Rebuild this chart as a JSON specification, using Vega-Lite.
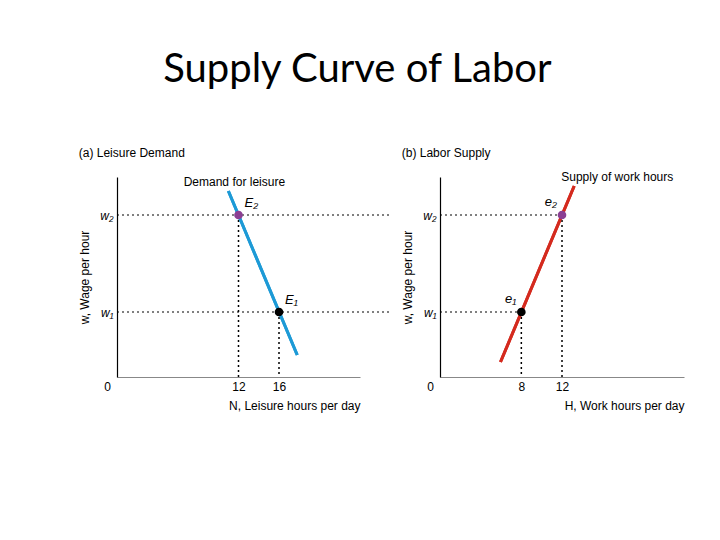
{
  "$schema": "https://vega.github.io/schema/vega-lite/v6.json",
  "background": "white",
  "padding": {"left": 78, "top": 49, "right": 20, "bottom": 20},
  "title": {"text": "Supply Curve of Labor", "font": "Lato", "fontSize": 40, "fontWeight": "normal", "color": "black", "anchor": "middle", "offset": 57, "dx": -24},
  "datasets": {
    "demand": [{"n": 11, "w": 9.3, "label": "Demand for leisure"}, {"n": 17.8, "w": 1.1, "label": ""}],
    "demandPts": [{"n": 12, "w": 8.1, "lvl": "high", "label": "E₂", "n0": 0, "nEnd": 27, "w0": 0}, {"n": 16, "w": 3.25, "lvl": "low", "label": "E₁", "n0": 0, "nEnd": 27, "w0": 0}],
    "supply": [{"h": 5.95, "w": 0.75, "label": ""}, {"h": 13.2, "w": 9.55, "label": "Supply of work hours"}],
    "supplyPts": [{"h": 8, "w": 3.25, "lvl": "low", "label": "e₁", "h0": 0, "w0": 0}, {"h": 12, "w": 8.1, "lvl": "high", "label": "e₂", "h0": 0, "w0": 0}]
  },
  "spacing": 80,
  "bounds": "flush",
  "hconcat": [
    {
      "width": 243, "height": 200,
      "title": {"text": "(a) Leisure Demand", "anchor": "start", "frame": "bounds", "font": "Liberation Sans", "fontSize": 12, "fontWeight": "normal", "color": "black", "offset": 16},
      "layer": [
        {
          "data": {"name": "demand"},
          "mark": {"type": "line", "color": "#1d9ad6", "strokeWidth": 3},
          "encoding": {
            "x": {"field": "n", "type": "quantitative", "scale": {"domain": [0, 23.7]},
              "axis": {"values": [0, 12, 16], "title": "N, Leisure hours per day", "titleAnchor": "end", "labelFlush": false,
                "labelOffset": {"condition": {"test": "datum.value === 0", "value": -10}, "value": 0}}},
            "y": {"field": "w", "type": "quantitative", "scale": {"domain": [0, 10]},
              "axis": {"values": [3.25, 8.1], "labelExpr": "datum.value > 5 ? 'w₂' : 'w₁'", "labelFontStyle": "italic", "title": "w, Wage per hour", "domainColor": "black"}}
          }
        },
        {
          "data": {"name": "demandPts"},
          "mark": {"type": "rule", "strokeDash": [2, 3], "color": "black", "strokeWidth": 1},
          "encoding": {
            "x": {"field": "n0", "type": "quantitative"},
            "x2": {"field": "nEnd"},
            "y": {"field": "w", "type": "quantitative"}
          }
        },
        {
          "data": {"name": "demandPts"},
          "mark": {"type": "rule", "strokeDash": [2, 3], "color": "black", "strokeWidth": 1.5},
          "encoding": {
            "x": {"field": "n", "type": "quantitative"},
            "y": {"field": "w", "type": "quantitative"},
            "y2": {"field": "w0"}
          }
        },
        {
          "data": {"name": "demand"},
          "mark": {"type": "line", "color": "#1d9ad6", "strokeWidth": 3},
          "encoding": {
            "x": {"field": "n", "type": "quantitative"},
            "y": {"field": "w", "type": "quantitative"}
          }
        },
        {
          "data": {"name": "demand"},
          "mark": {"type": "text", "font": "Liberation Sans", "fontSize": 12, "align": "center", "baseline": "middle", "dx": 6, "dy": -9, "color": "black"},
          "encoding": {
            "x": {"field": "n", "type": "quantitative"},
            "y": {"field": "w", "type": "quantitative"},
            "text": {"field": "label"}
          }
        },
        {
          "data": {"name": "demandPts"},
          "mark": {"type": "point", "filled": true, "size": 75, "opacity": 1},
          "encoding": {
            "x": {"field": "n", "type": "quantitative"},
            "y": {"field": "w", "type": "quantitative"},
            "color": {"field": "lvl", "type": "nominal", "scale": {"domain": ["high", "low"], "range": ["#8b3f93", "black"]}, "legend": null}
          }
        },
        {
          "data": {"name": "demandPts"},
          "mark": {"type": "text", "font": "Liberation Sans", "fontSize": 13, "fontStyle": "italic", "align": "left", "baseline": "middle", "dx": 6, "dy": -12, "color": "black"},
          "encoding": {
            "x": {"field": "n", "type": "quantitative"},
            "y": {"field": "w", "type": "quantitative"},
            "text": {"field": "label"}
          }
        }
      ]
    },
    {
      "width": 244, "height": 200,
      "title": {"text": "(b) Labor Supply", "anchor": "start", "frame": "bounds", "font": "Liberation Sans", "fontSize": 12, "fontWeight": "normal", "color": "black", "offset": 11},
      "layer": [
        {
          "data": {"name": "supply"},
          "mark": {"type": "line", "color": "#d42a1e", "strokeWidth": 3},
          "encoding": {
            "x": {"field": "h", "type": "quantitative", "scale": {"domain": [0, 23.8]},
              "axis": {"values": [0, 8, 12], "title": "H, Work hours per day", "titleAnchor": "end", "labelFlush": false,
                "labelOffset": {"condition": {"test": "datum.value === 0", "value": -10}, "value": 0}}},
            "y": {"field": "w", "type": "quantitative", "scale": {"domain": [0, 10]},
              "axis": {"values": [3.25, 8.1], "labelExpr": "datum.value > 5 ? 'w₂' : 'w₁'", "labelFontStyle": "italic", "title": "w, Wage per hour", "domainColor": "black"}}
          }
        },
        {
          "data": {"name": "supplyPts"},
          "mark": {"type": "rule", "strokeDash": [2, 3], "color": "black", "strokeWidth": 1},
          "encoding": {
            "x": {"field": "h0", "type": "quantitative"},
            "x2": {"field": "h"},
            "y": {"field": "w", "type": "quantitative"}
          }
        },
        {
          "data": {"name": "supplyPts"},
          "mark": {"type": "rule", "strokeDash": [2, 3], "color": "black", "strokeWidth": 1.5},
          "encoding": {
            "x": {"field": "h", "type": "quantitative"},
            "y": {"field": "w", "type": "quantitative"},
            "y2": {"field": "w0"}
          }
        },
        {
          "data": {"name": "supply"},
          "mark": {"type": "line", "color": "#d42a1e", "strokeWidth": 3},
          "encoding": {
            "x": {"field": "h", "type": "quantitative"},
            "y": {"field": "w", "type": "quantitative"}
          }
        },
        {
          "data": {"name": "supply"},
          "mark": {"type": "text", "font": "Liberation Sans", "fontSize": 12, "align": "left", "baseline": "middle", "dx": -13, "dy": -9, "color": "black"},
          "encoding": {
            "x": {"field": "h", "type": "quantitative"},
            "y": {"field": "w", "type": "quantitative"},
            "text": {"field": "label"}
          }
        },
        {
          "data": {"name": "supplyPts"},
          "mark": {"type": "point", "filled": true, "size": 75, "opacity": 1},
          "encoding": {
            "x": {"field": "h", "type": "quantitative"},
            "y": {"field": "w", "type": "quantitative"},
            "color": {"field": "lvl", "type": "nominal", "scale": {"domain": ["high", "low"], "range": ["#8b3f93", "black"]}, "legend": null}
          }
        },
        {
          "data": {"name": "supplyPts"},
          "mark": {"type": "text", "font": "Liberation Sans", "fontSize": 13, "fontStyle": "italic", "align": "right", "baseline": "middle", "dx": -5, "dy": -13, "color": "black"},
          "encoding": {
            "x": {"field": "h", "type": "quantitative"},
            "y": {"field": "w", "type": "quantitative"},
            "text": {"field": "label"}
          }
        }
      ]
    }
  ],
  "config": {
    "view": {"stroke": null},
    "axis": {
      "grid": false, "ticks": false, "domainColor": "#888888", "domainWidth": 1.2,
      "labelFont": "Liberation Sans", "labelFontSize": 12, "labelColor": "black", "labelPadding": 4,
      "titleFont": "Liberation Sans", "titleFontSize": 12, "titleFontWeight": "normal", "titleColor": "black", "titlePadding": 8
    }
  }
}
